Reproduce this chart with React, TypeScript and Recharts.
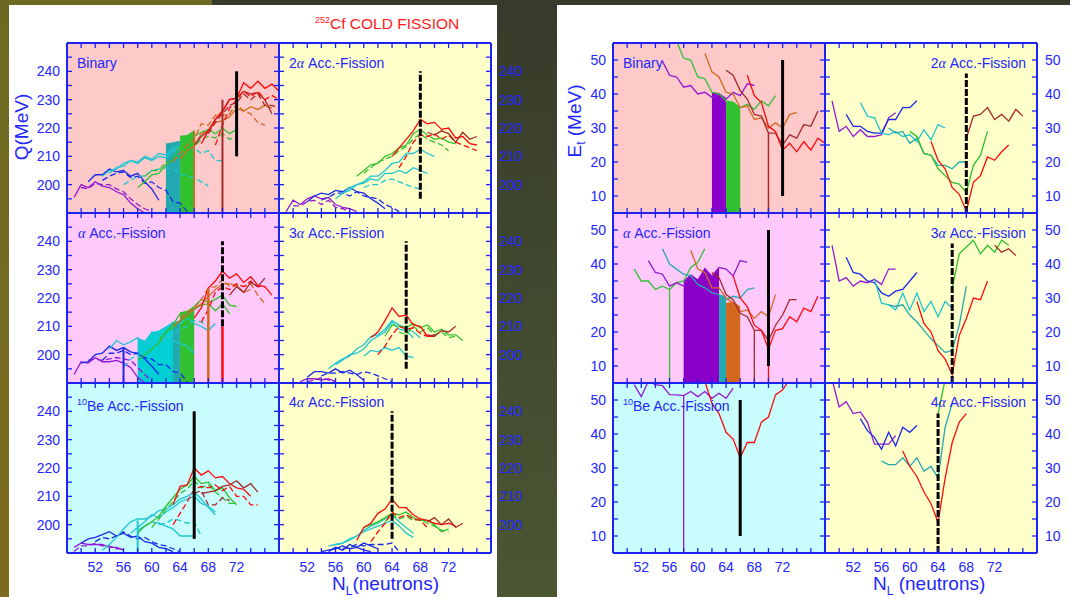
import React from 'react';
import { ComposedChart, Line, Area, XAxis, YAxis, ReferenceArea, ReferenceLine } from 'recharts';

type Series = { n0: number; v: number[] };

// ---------- axes ----------
const N_DOMAIN: [number, number] = [48, 78];
const N_TICKS = [50, 52, 54, 56, 58, 60, 62, 64, 66, 68, 70, 72, 74, 76];
const N_LABELS = [52, 56, 60, 64, 68, 72];
const Q_DOMAIN: [number, number] = [190, 250];
const Q_TICKS = [195, 200, 205, 210, 215, 220, 225, 230, 235, 240, 245];
const Q_LABELS = [200, 210, 220, 230, 240];
const E_DOMAIN: [number, number] = [5, 55];
const E_TICKS = [10, 15, 20, 25, 30, 35, 40, 45, 50];
const E_LABELS = [10, 20, 30, 40, 50];

// ---------- Q(MeV): Binary ----------
const qBinPurple1: Series = { n0: 49, v: [195.5, 200, 199, 201, 199.5, 199, 197.5, 196.5, 193.5, 191.5, 190] };
const qBinPurple2: Series = { n0: 50, v: [199, 198.5, 200.5, 200, 200, 198.5, 197.5, 195, 193, 191.5, 190.5] };
const qBinBlue1: Series = { n0: 51, v: [201, 203.5, 203.5, 205.5, 204.5, 205, 203, 204, 201, 198.5, 194.5] };
const qBinBlue2: Series = { n0: 53, v: [201.5, 203, 204, 204.5, 202.5, 203, 200.5, 201, 199, 198, 194, 193.5, 190.5] };
const qBinCyan1: Series = { n0: 53, v: [203, 205, 205.5, 207.5, 208.5, 208, 210, 209, 211, 210.5, 213, 213.5] };
const qBinCyan2: Series = { n0: 54, v: [204, 206, 206.5, 208.5, 207.5, 209.5, 208.5, 210, 209.5, 212, 212.5] };
const qBinCyan3: Series = { n0: 63, v: [212, 210.5, 212, 213, 211, 212, 208.5, 208.5] };
const qBinCyan4: Series = { n0: 56, v: [200, 201.5, 203, 203, 205, 205.5, 206, 205.5, 204, 203, 202.5, 201, 199.5] };
const qBinGreen1: Series = { n0: 58, v: [199, 201, 203.5, 204, 207, 209, 213.5, 214, 217, 218.5, 219.5, 218, 220, 218, 219.5] };
const qBinGreen2: Series = { n0: 59, v: [203, 205, 205, 208, 208.5, 211, 212, 213.5, 216, 217, 216.5, 218, 216, 217] };
const qBinOrange1: Series = { n0: 63, v: [208, 211, 214, 216, 221.5, 221, 224.5, 224.5, 225, 228.5, 226, 225, 222, 221] };
const qBinOrange2: Series = { n0: 64, v: [209, 212, 213.5, 218, 219, 222, 222.5, 224, 227, 226, 227.5, 226.5, 228, 227] };
const qBinBrown1: Series = { n0: 66, v: [214, 217, 219, 223, 226, 230, 230.5, 233, 232, 232.5, 230, 225] };
const qBinBrown2: Series = { n0: 68, v: [218, 222, 225, 228, 229, 232, 230, 232, 228, 228, 227] };
const qBinRed1: Series = { n0: 67, v: [214.5, 219, 223, 226, 230, 230.5, 236, 234, 236.5, 234, 235.5, 233] };
const qBinRed2: Series = { n0: 69, v: [214, 221, 227, 230, 233, 231, 233, 230, 231.5, 230] };
const qBinBandTeal: Series = { n0: 62, v: [214.5, 215, 215.5] };
const qBinBandGreen: Series = { n0: 64, v: [217.3, 217.5, 219.2] };
const qBinMarkOrange = [66, 190, 219];
const qBinMarkBrown = [70, 190, 230];
const qBinMarkBlack = [72, 210, 240];

// ---------- Q: 2alpha ----------
const q2aPurple1: Series = { n0: 49, v: [190.5, 194.5, 193, 195, 196, 195, 195.5, 193, 192, 191.5, 190.5] };
const q2aPurple2: Series = { n0: 50, v: [192.5, 192.5, 194, 194.5, 193, 194.5, 192, 191.5, 190.5] };
const q2aBlue1: Series = { n0: 52, v: [194, 196, 197, 196.5, 198, 197.5, 199, 197.5, 197, 195, 193.5, 191.5] };
const q2aBlue2: Series = { n0: 54, v: [194.5, 195.5, 197, 197, 196, 197.5, 196, 195.5, 195, 193, 192, 190.5] };
const q2aCyan1: Series = { n0: 56, v: [195, 197, 199, 200, 201, 203, 203, 205, 207.5, 208, 211, 211, 212.5, 211, 210] };
const q2aCyan2: Series = { n0: 57, v: [197, 198, 200, 200.5, 202, 201.5, 204, 204, 205, 204, 206, 205, 204] };
const q2aCyan3: Series = { n0: 60, v: [199, 200, 200, 201.5, 202, 201, 200, 199, 198.5] };
const q2aGreen1: Series = { n0: 59, v: [203, 205, 207, 207.5, 210, 211, 213, 214, 218, 219.5, 217.5, 216, 216.5, 215, 214.5] };
const q2aGreen2: Series = { n0: 60, v: [204, 206, 208, 209, 210, 212, 213.5, 216, 218, 216, 215, 214, 212] };
const q2aRed1: Series = { n0: 64, v: [210, 213, 216, 219, 223, 221.5, 222, 219.5, 220, 216.5, 217, 214.5, 214] };
const q2aRed2: Series = { n0: 65, v: [206, 210, 215, 217.5, 217, 218, 216, 217.5, 215, 214, 213, 212] };
const q2aBrown: Series = { n0: 69, v: [218.5, 217.5, 219, 218, 215, 218.5, 216, 217] };
const q2aMarkBlack = [68, 195, 240];

// ---------- Q: alpha ----------
const qAPurple1: Series = { n0: 49, v: [193, 197.5, 197, 199, 197.5, 197.5, 198, 197, 195.5, 192, 190] };
const qAPurple2: Series = { n0: 51, v: [198, 198.5, 198, 198.5, 199, 198.5, 198, 195.5, 193, 190.5] };
const qABlue1: Series = { n0: 50, v: [197, 197.5, 200, 200.5, 203, 201.5, 202.5, 201, 200.5, 198.5, 196, 193] };
const qABlue2: Series = { n0: 53, v: [198, 200.5, 200.5, 201.5, 200, 200.5, 199, 198.5, 196.5, 196.5, 194, 193.5, 190.5] };
const qACyan1: Series = { n0: 54, v: [202, 205, 203.5, 204.5, 206, 204, 208, 206, 209, 211.5, 211, 213, 211, 210, 208.5, 211] };
const qACyan2: Series = { n0: 58, v: [202, 203.5, 205, 204, 206.5, 205, 204, 203, 200.5] };
const qACyan3: Series = { n0: 56, v: [195.5, 198.5, 200, 201, 202.5, 204, 205.5, 207, 209, 210, 212, 211.5, 210.5] };
const qAGreen1: Series = { n0: 58, v: [198, 200, 202, 204, 208, 210.5, 214.5, 215, 217, 219.5, 218.5, 219.5, 221, 217.5, 217] };
const qAGreen2: Series = { n0: 61, v: [205, 208, 209.5, 212, 213, 216, 217.5, 218, 215.5, 218, 214.5] };
const qAOrange1: Series = { n0: 63, v: [210, 212, 214, 216, 218, 220.5, 223, 225, 225, 224.5, 222, 223] };
const qAOrange2: Series = { n0: 64, v: [213, 215, 216.5, 219.5, 223.5, 224, 226.5, 224, 224.5, 224, 225, 221, 218] };
const qARed1: Series = { n0: 66, v: [213, 216.5, 223.5, 226, 229.5, 227, 228.5, 225.5, 227.5, 224.5, 224, 221] };
const qARed2: Series = { n0: 67, v: [211.5, 216, 222, 224, 223, 225, 224, 226, 224, 224] };
const qABrown: Series = { n0: 71, v: [221, 224, 222, 225.5, 224, 227] };
const qABandCyan: Series = { n0: 58, v: [206, 205, 208, 208.5, 210, 211.5] };
const qABandTeal: Series = { n0: 63, v: [211.5, 212] };
const qABandGreen: Series = { n0: 64, v: [215, 215.5, 217] };
const qAMarkBlue = [56, 190, 202.5];
const qAMarkOrange = [68, 190, 223.5];
const qAMarkRed = [70, 190, 210];
const qAMarkBlack = [70, 210, 240];

// ---------- Q: 3alpha ----------
const q3aPurple1: Series = { n0: 51, v: [190.5, 191.5, 191.5, 191, 191.5, 190.5] };
const q3aPurple2: Series = { n0: 52, v: [190.5, 191, 192, 191, 190.5] };
const q3aBlue1: Series = { n0: 52, v: [192, 194, 194, 193.5, 195, 193.5, 194.5, 193, 191] };
const q3aBlue2: Series = { n0: 54, v: [192.5, 193.5, 193.5, 194, 193.5, 193, 194, 193.5, 192.5, 191.5, 190.5] };
const q3aCyan1: Series = { n0: 55, v: [195, 197, 198.5, 199.5, 202, 203.5, 206.5, 207, 209, 212, 210.5, 209.5, 208, 206] };
const q3aCyan2: Series = { n0: 56, v: [196.5, 198, 200, 200.5, 202, 205, 206.5, 208, 211.5, 209, 208.5, 206] };
const q3aCyan3: Series = { n0: 60, v: [199.5, 201.5, 201, 202.5, 201.5, 202.5, 199.5, 199] };
const q3aGreen1: Series = { n0: 63, v: [206.5, 210.5, 210, 209.5, 211, 209.5, 210.5, 208, 209, 207, 207, 205] };
const q3aGreen2: Series = { n0: 65, v: [208, 207, 210, 208, 209.5, 207, 208, 206, 206.5] };
const q3aRed1: Series = { n0: 61, v: [206, 208, 212, 216.5, 213.5, 214, 210.5, 210, 206.5, 206.5] };
const q3aRed2: Series = { n0: 62, v: [200, 203, 207, 210, 209, 209.5, 207.5, 206.5, 207] };
const q3aBrown: Series = { n0: 69, v: [207, 206.5, 208.5, 208, 210] };
const q3aMarkBlack = [66, 195, 240];

// ---------- Q: 10Be ----------
const qBePurple1: Series = { n0: 49, v: [192, 193.5, 193, 193, 193, 192, 192, 191] };
const qBePurple2: Series = { n0: 49, v: [190.5, 192.5, 192.5, 193.5, 192.5, 192.5, 191.5, 191.5] };
const qBeBlue1: Series = { n0: 50, v: [193.5, 195, 195.5, 196.5, 197.5, 196, 197, 195.5, 196, 194, 193.5, 192, 191.5, 190.5] };
const qBeBlue2: Series = { n0: 52, v: [194, 195.5, 195, 196, 197.5, 196, 195, 195.5, 194, 193, 192.5, 191.5, 190.5] };
const qBeCyan1: Series = { n0: 53, v: [191, 193, 195.5, 198.5, 201, 202, 202, 203, 205, 205.5, 207, 209, 210, 211.5, 209, 206, 203.5] };
const qBeCyan2: Series = { n0: 57, v: [197, 199, 201, 203.5, 202.5, 204.5, 206, 208, 209, 210, 207.5, 206.5, 204.5] };
const qBeCyan3: Series = { n0: 58, v: [198, 199.5, 201, 200.5, 199.5, 198.5, 196, 196, 196] };
const qBeCyan4: Series = { n0: 61, v: [200, 200.5, 202, 201.5, 200.5, 201, 196] };
const qBeGreen1: Series = { n0: 58, v: [197, 199.5, 201, 203, 206.5, 209.5, 212.5, 214, 217, 214.5, 215, 212, 213, 209.5, 207] };
const qBeGreen2: Series = { n0: 60, v: [199, 202, 205.5, 208, 211, 212.5, 215.5, 213, 214, 211.5, 209.5, 207.5, 207.5] };
const qBeRed1: Series = { n0: 63, v: [207, 213.5, 214, 220, 217.5, 219, 216.5, 217, 214.5, 213, 212.5, 210] };
const qBeRed2: Series = { n0: 63, v: [200, 204, 208, 212.5, 213.5, 213, 214, 212, 213.5, 210, 210, 207, 207] };
const qBeBrown1: Series = { n0: 67, v: [211, 211.5, 212, 213.5, 214, 215.5, 213, 214.5, 211.5] };
const qBeBrown2: Series = { n0: 66, v: [211, 212, 207, 207, 209.5, 208.5] };
const qBeMarkCyan = [58, 190, 201.5];
const qBeMarkBlack = [66, 195, 240];

// ---------- Q: 4alpha ----------
const q4aBlue1: Series = { n0: 54, v: [190.5, 191, 191.5, 192.5, 191.5, 192, 191, 190.5] };
const q4aBlue2: Series = { n0: 57, v: [191.5, 192, 193, 192.5, 193, 193, 193, 193.5, 190.5] };
const q4aBlue3: Series = { n0: 55, v: [190.5, 192, 191, 193, 192, 193.5, 192.5, 191.5] };
const q4aCyan1: Series = { n0: 55, v: [192.5, 193, 193.5, 195, 196, 198, 199.5, 200.5, 202, 203.5, 201, 199, 197] };
const q4aCyan2: Series = { n0: 56, v: [193, 193.5, 194.5, 196, 197.5, 198.5, 199.5, 200.5, 201.5, 199.5, 197, 195.5] };
const q4aGreen1: Series = { n0: 60, v: [199, 200, 201, 202.5, 204, 203.5, 204.5, 202.5, 201.5, 201.5, 200, 197.5, 198.5] };
const q4aGreen2: Series = { n0: 63, v: [201, 203.5, 202, 203, 201.5, 202, 200.5, 199.5, 198, 197.5] };
const q4aRed1: Series = { n0: 59, v: [194.5, 199, 200.5, 204, 205.5, 209, 206, 206, 203.5, 202, 201.5, 200.5, 200, 200.5, 199.5] };
const q4aRed2: Series = { n0: 61, v: [194, 197.5, 200.5, 204.5, 202.5, 203.5, 202, 201.5, 199] };
const q4aBrown: Series = { n0: 69, v: [201, 202.5, 200, 202, 199, 200.5] };
const q4aMarkBlack = [64, 195, 240];

// ---------- Et(MeV): Binary ----------
const eBinPurple: Series = { n0: 55, v: [49.6, 45.5, 45, 42, 42.5, 40, 40.5, 39, 40, 38.5, 40.5, 39.5, 43, 42.5] };
const eBinGreen: Series = { n0: 57, v: [55.5, 50.5, 50, 45, 44.5, 40.5, 40, 38, 37.5, 36, 37, 35.5, 38, 36.5, 39.5] };
const eBinOrange: Series = { n0: 61, v: [52, 46.5, 45, 40.5, 40, 36, 36.5, 32.5, 33, 30, 31.5, 30, 34, 34.5] };
const eBinBrown: Series = { n0: 64, v: [47, 45.5, 41, 38.5, 34, 33.5, 28.5, 28.5, 25, 28, 27, 31, 30.5, 35] };
const eBinRed: Series = { n0: 67, v: [45.5, 39.5, 37.5, 30.5, 29, 23.5, 25.5, 23, 26, 23.5, 27, 25.5] };
const eBinBandPurple: Series = { n0: 62, v: [40.5, 40.3, 38.8] };
const eBinBandGreen: Series = { n0: 64, v: [37.6, 37.8, 35.9] };
const eBinMarkBrown = [70, 5, 28.5];
const eBinMarkBlack = [72, 10, 50];

// ---------- Et: 2alpha ----------
const e2aPurple: Series = { n0: 49, v: [38, 29, 30.5, 27.5, 29.5, 27.5, 27.5, 28, 33, 34.5] };
const e2aBlue: Series = { n0: 51, v: [34, 30.5, 30.5, 29, 28.5, 28.5, 32.5, 32.5, 36, 36, 38] };
const e2aCyan: Series = { n0: 53, v: [37.5, 33.5, 33, 28.5, 28, 29, 27.5, 28, 26, 29.5, 26.5, 31, 30] };
const e2aTeal: Series = { n0: 57, v: [30, 28.5, 29, 25.5, 27, 22.5, 22, 19, 19, 18, 20, 20] };
const e2aGreen: Series = { n0: 60, v: [29, 27.5, 22.5, 22, 18, 16, 14, 13.5, 11, 19, 22, 29] };
const e2aRed: Series = { n0: 63, v: [26, 20.5, 18, 12.5, 10.5, 5.5, 14, 16, 21.5, 20.5, 23, 25] };
const e2aBrown: Series = { n0: 68, v: [27, 33.5, 34, 36, 32.5, 34, 32, 35.5, 33.5] };
const e2aMarkBlack = [68, 5, 46];

// ---------- Et: alpha ----------
const eAGreen: Series = { n0: 51, v: [38.5, 35, 35, 32.5, 33.5, 32.5, 34.5, 35, 39, 40.5, 44.5] };
const eAPurple1: Series = { n0: 53, v: [41, 37.5, 37, 33.5, 34.5, 33.5] };
const eAPurple2: Series = { n0: 61, v: [38.5, 36.5, 39, 38.5, 36.5, 41, 40.5] };
const eACyan: Series = { n0: 55, v: [44.5, 40, 38.5, 37, 36.5, 34, 33, 31.5, 31, 29.5, 30.5, 30, 32.5, 33] };
const eAOrange: Series = { n0: 59, v: [44, 38.5, 37.5, 33, 33, 30, 28.5, 26, 26.5, 24, 26, 24.5, 31] };
const eABrown: Series = { n0: 62, v: [37.5, 36, 31, 29.5, 25.5, 24.5, 20.5, 20.5, 17.5, 22, 25, 29.5, 29.5] };
const eARed: Series = { n0: 65, v: [36.5, 30, 27.5, 22, 20.5, 15, 20.5, 21, 24.5, 23, 27, 26, 30.5] };
const eABandPurple: Series = { n0: 58, v: [35, 37, 35.5, 39, 36.5, 39] };
const eABandTeal: Series = { n0: 63, v: [31, 30.5] };
const eABandOrange: Series = { n0: 64, v: [28.5, 29, 27.5] };
const eAMarkGreen = [56, 5, 32.5];
const eAMarkBrown = [68, 5, 20.5];
const eAMarkRed = [70, 5, 15];
const eAMarkBlack = [70, 10, 50];

// ---------- Et: 3alpha ----------
const e3aPurple: Series = { n0: 49, v: [45.5, 35, 36, 33.5, 35, 34.5, 35.5, 34, 38.5, 38.5] };
const e3aBlue: Series = { n0: 51, v: [42, 37.5, 37, 35, 34.5, 31.5, 30.5, 32, 32.5, 35, 37.5] };
const e3aCyan: Series = { n0: 55, v: [35.5, 28.5, 28, 26.5, 31.5, 26.5, 31.5, 26, 29, 24.5, 29, 27] };
const e3aTeal: Series = { n0: 57, v: [28, 27.5, 28, 25, 23, 20.5, 18, 16, 14, 14.5, 22, 33.5] };
const e3aGreen: Series = { n0: 66, v: [33, 43, 45, 47, 43, 45.5, 43.5, 47, 45.5] };
const e3aRed: Series = { n0: 61, v: [29, 22.5, 20, 14.5, 12, 7.5, 19, 24, 30, 29.5, 35] };
const e3aBrown: Series = { n0: 72, v: [45.5, 43.5, 44.5, 42.5] };
const e3aMarkBlack = [66, 5, 46];

// ---------- Et: 10Be ----------
const eBePurple: Series = { n0: 51, v: [54.5, 51, 55.5, 54.5, 54.2, 51.6, 51.5, 51.3, 52.5, 51, 52.5, 50.5, 52, 50.5, 53.5] };
const eBeRed: Series = { n0: 61, v: [55.5, 49, 46, 40.5, 38.5, 33, 37.5, 37.5, 43.5, 45, 51.5, 53, 56] };
const eBeMarkPurple = [58, 5, 51.3];
const eBeMarkBlack = [66, 10, 50];

// ---------- Et: 4alpha ----------
const e4aPurple: Series = { n0: 49, v: [56, 48, 49.5, 46, 46.5, 43.5, 37, 37, 37, 39.5] };
const e4aBlue: Series = { n0: 53, v: [44.5, 41, 39, 35.5, 40.5, 36.5, 42, 40.5, 42.5] };
const e4aTeal: Series = { n0: 56, v: [32, 31, 31, 33, 30.5, 33, 29, 30.5, 27, 42, 49] };
const e4aGreen: Series = { n0: 64, v: [46, 56] };
const e4aRed: Series = { n0: 59, v: [35, 30.5, 27.5, 23, 19.5, 14, 27, 37.5, 43.5, 46] };
const e4aMarkBlack = [64, 5, 46];

// ---------- styles ----------
const FONT = '"Liberation Sans", Arial, sans-serif';
const FRAME = '#1c22f2';
const TXT = '#2226ff';
const PURPLE = '#9418d6';
const BLUE = '#1a2ae8';
const CYAN = '#1fc6d2';
const TEAL = '#22aab0';
const GREEN = '#30c030';
const ORANGE = '#d2691e';
const BROWN = '#a52a2a';
const RED = '#ff0a0a';
const BLACK = '#000000';
const BG_PINK = '#fdc9c9';
const BG_MAGENTA = '#ffc9fc';
const BG_CYAN = '#c9fdfd';
const BG_YELLOW = '#ffffca';

type LineSpec = { s: Series; c: string; dash?: boolean };
type BandSpec = { s: Series; c: string };
type MarkSpec = { m: number[]; c: string; w: number; dash?: boolean };

const pts = (s: Series) => s.v.map((y, i) => ({ x: s.n0 + i, y }));

const PW = 212;
const PH = 170;
const SIDE = 45;
const TOPH = 6;
const BOTH = 32;

type PanelProps = {
  x: number; y: number; bg: string; dom: [number, number]; yTicks: number[]; yLabels: number[];
  labelSide: 'left' | 'right'; xLabels: boolean; lines: LineSpec[]; bands?: BandSpec[]; marks: MarkSpec[];
};

function Panel(p: PanelProps) {
  const W = PW + 2 * SIDE;
  const H = PH + TOPH + BOTH;
  const fmtY = (v: number) => (p.yLabels.includes(v) ? String(v) : '');
  const none = () => '';
  const axisLine = { stroke: FRAME, strokeWidth: 2 };
  const tickLine = { stroke: FRAME, strokeWidth: 1.3 };
  const tickStyle = { fill: TXT, fontSize: 14, fontFamily: FONT };
  return (
    <div style={{ position: 'absolute', left: p.x - SIDE, top: p.y - TOPH, width: W, height: H }}>
      <ComposedChart width={W} height={H} margin={{ top: 0, right: 0, bottom: 0, left: 0 }}>
        <XAxis type="number" dataKey="x" domain={N_DOMAIN} allowDataOverflow ticks={N_TICKS} interval={0}
          height={BOTH} tickSize={-5} tickMargin={14}
          tickFormatter={(v: number) => (p.xLabels && N_LABELS.includes(v) ? String(v) : '')}
          axisLine={axisLine} tickLine={tickLine} tick={tickStyle} />
        <XAxis xAxisId="t" orientation="top" type="number" dataKey="x" domain={N_DOMAIN} allowDataOverflow
          ticks={N_TICKS} interval={0} height={TOPH} tickSize={-5} tickFormatter={none}
          axisLine={axisLine} tickLine={tickLine} tick={tickStyle} />
        <YAxis type="number" dataKey="y" domain={p.dom} allowDataOverflow ticks={p.yTicks} interval={0}
          width={SIDE} tickSize={-5} tickMargin={12} tickFormatter={p.labelSide === 'left' ? fmtY : none}
          axisLine={axisLine} tickLine={tickLine} tick={tickStyle} />
        <YAxis yAxisId="r" orientation="right" type="number" dataKey="y" domain={p.dom} allowDataOverflow
          ticks={p.yTicks} interval={0} width={SIDE} tickSize={-5} tickMargin={13}
          tickFormatter={p.labelSide === 'right' ? fmtY : none}
          axisLine={axisLine} tickLine={tickLine} tick={tickStyle} />
        <ReferenceArea x1={N_DOMAIN[0]} x2={N_DOMAIN[1]} y1={p.dom[0]} y2={p.dom[1]} fill={p.bg} fillOpacity={1} stroke="none" />
        {(p.bands || []).map((b, i) => (
          <Area key={'b' + i} data={pts(b.s)} dataKey="y" type="linear" stroke="none" fill={b.c} fillOpacity={1}
            baseValue={p.dom[0]} isAnimationActive={false} dot={false} activeDot={false} />
        ))}
        {p.lines.map((l, i) => (
          <Line key={'l' + i} data={pts(l.s)} dataKey="y" type="linear" stroke={l.c} strokeWidth={1.3}
            strokeDasharray={l.dash ? '6 3' : undefined} dot={false} activeDot={false} isAnimationActive={false} />
        ))}
        {p.marks.map((m, i) => (
          <ReferenceLine key={'m' + i} segment={[{ x: m.m[0], y: m.m[1] }, { x: m.m[0], y: m.m[2] }]}
            stroke={m.c} strokeWidth={m.w} strokeDasharray={m.dash ? '7 2' : undefined} ifOverflow="visible" />
        ))}
      </ComposedChart>
    </div>
  );
}

const ALPHA = (t: string) => <span style={{ fontFamily: '"Liberation Serif", serif', fontStyle: 'italic' }}>{t}</span>;

function Label({ x, y, children, right }: { x: number; y: number; children: React.ReactNode; right?: boolean }) {
  return (
    <div style={{
      position: 'absolute', top: y - 9, left: right ? undefined : x, right: right ? 1070 - x : undefined,
      fontFamily: FONT, fontSize: 14, color: TXT, lineHeight: '18px', whiteSpace: 'nowrap',
    }}>{children}</div>
  );
}

const LX1 = 67, LX2 = 279, RX1 = 613, RX2 = 825;
const RY1 = 43, RY2 = 213, RY3 = 383;

export default function App() {
  return (
    <div style={{ position: 'absolute', left: 0, top: 0, width: 1070, height: 597, overflow: 'hidden', background: '#373b2b' }}>
      <div style={{ position: 'absolute', left: 0, top: 0, width: 9, height: 597, background: 'linear-gradient(#6c6a22, #7c6b1e)' }} />
      <div style={{ position: 'absolute', left: 0, top: 0, width: 212, height: 5, background: '#6c6a22' }} />
      <div style={{ position: 'absolute', left: 497, top: 5, width: 60, height: 592, background: 'linear-gradient(#373b2b, #4b5733)' }} />
      <div style={{ position: 'absolute', left: 9, top: 5, width: 488, height: 592, background: '#ffffff' }} />
      <div style={{ position: 'absolute', left: 557, top: 5, width: 513, height: 592, background: '#ffffff' }} />

      <div style={{ position: 'absolute', left: 315, top: 15, fontFamily: FONT, fontSize: 15.5, color: '#ff1a1a', whiteSpace: 'nowrap' }}>
        <sup style={{ fontSize: 9 }}>252</sup>Cf COLD FISSION
      </div>

      {/* ----- left: Q ----- */}
      <Panel x={LX1} y={RY1} bg={BG_PINK} dom={Q_DOMAIN} yTicks={Q_TICKS} yLabels={Q_LABELS} labelSide="left" xLabels={false}
        lines={[
          { s: qBinPurple1, c: PURPLE }, { s: qBinPurple2, c: PURPLE, dash: true },
          { s: qBinBlue1, c: BLUE }, { s: qBinBlue2, c: BLUE, dash: true },
          { s: qBinCyan1, c: CYAN }, { s: qBinCyan2, c: CYAN }, { s: qBinCyan3, c: CYAN, dash: true }, { s: qBinCyan4, c: CYAN, dash: true },
          { s: qBinGreen1, c: GREEN }, { s: qBinGreen2, c: GREEN, dash: true },
          { s: qBinOrange1, c: ORANGE, dash: true }, { s: qBinOrange2, c: ORANGE },
          { s: qBinBrown1, c: BROWN }, { s: qBinBrown2, c: BROWN, dash: true },
          { s: qBinRed1, c: RED }, { s: qBinRed2, c: RED, dash: true },
        ]}
        bands={[{ s: qBinBandTeal, c: TEAL }, { s: qBinBandGreen, c: GREEN }]}
        marks={[{ m: qBinMarkOrange, c: ORANGE, w: 1.5 }, { m: qBinMarkBrown, c: BROWN, w: 2 }, { m: qBinMarkBlack, c: BLACK, w: 3 }]} />
      <Panel x={LX2} y={RY1} bg={BG_YELLOW} dom={Q_DOMAIN} yTicks={Q_TICKS} yLabels={Q_LABELS} labelSide="right" xLabels={false}
        lines={[
          { s: q2aPurple1, c: PURPLE }, { s: q2aPurple2, c: PURPLE, dash: true },
          { s: q2aBlue1, c: BLUE }, { s: q2aBlue2, c: BLUE, dash: true },
          { s: q2aCyan1, c: CYAN }, { s: q2aCyan2, c: CYAN }, { s: q2aCyan3, c: CYAN, dash: true },
          { s: q2aGreen1, c: GREEN }, { s: q2aGreen2, c: GREEN, dash: true },
          { s: q2aRed1, c: RED }, { s: q2aRed2, c: RED, dash: true }, { s: q2aBrown, c: BROWN },
        ]}
        marks={[{ m: q2aMarkBlack, c: BLACK, w: 3, dash: true }]} />
      <Panel x={LX1} y={RY2} bg={BG_MAGENTA} dom={Q_DOMAIN} yTicks={Q_TICKS} yLabels={Q_LABELS} labelSide="left" xLabels={false}
        lines={[
          { s: qAPurple1, c: PURPLE }, { s: qAPurple2, c: PURPLE, dash: true },
          { s: qABlue1, c: BLUE }, { s: qABlue2, c: BLUE, dash: true },
          { s: qACyan1, c: CYAN }, { s: qACyan2, c: CYAN }, { s: qACyan3, c: CYAN, dash: true },
          { s: qAGreen1, c: GREEN }, { s: qAGreen2, c: GREEN },
          { s: qAOrange1, c: ORANGE }, { s: qAOrange2, c: ORANGE, dash: true },
          { s: qARed1, c: RED }, { s: qARed2, c: RED, dash: true }, { s: qABrown, c: BROWN },
        ]}
        bands={[{ s: qABandCyan, c: '#00cfd4' }, { s: qABandTeal, c: TEAL }, { s: qABandGreen, c: GREEN }]}
        marks={[{ m: qAMarkBlue, c: BLUE, w: 2 }, { m: qAMarkOrange, c: ORANGE, w: 2.5 }, { m: qAMarkRed, c: RED, w: 2.5 }, { m: qAMarkBlack, c: BLACK, w: 3, dash: true }]} />
      <Panel x={LX2} y={RY2} bg={BG_YELLOW} dom={Q_DOMAIN} yTicks={Q_TICKS} yLabels={Q_LABELS} labelSide="right" xLabels={false}
        lines={[
          { s: q3aPurple1, c: PURPLE }, { s: q3aPurple2, c: PURPLE, dash: true },
          { s: q3aBlue1, c: BLUE }, { s: q3aBlue2, c: BLUE, dash: true },
          { s: q3aCyan1, c: CYAN }, { s: q3aCyan2, c: CYAN }, { s: q3aCyan3, c: CYAN },
          { s: q3aGreen1, c: GREEN }, { s: q3aGreen2, c: GREEN, dash: true },
          { s: q3aRed1, c: RED }, { s: q3aRed2, c: RED, dash: true }, { s: q3aBrown, c: BROWN },
        ]}
        marks={[{ m: q3aMarkBlack, c: BLACK, w: 3, dash: true }]} />
      <Panel x={LX1} y={RY3} bg={BG_CYAN} dom={Q_DOMAIN} yTicks={Q_TICKS} yLabels={Q_LABELS} labelSide="left" xLabels
        lines={[
          { s: qBePurple1, c: PURPLE }, { s: qBePurple2, c: PURPLE, dash: true },
          { s: qBeBlue1, c: BLUE }, { s: qBeBlue2, c: BLUE, dash: true },
          { s: qBeCyan1, c: CYAN }, { s: qBeCyan2, c: CYAN }, { s: qBeCyan3, c: CYAN }, { s: qBeCyan4, c: CYAN, dash: true },
          { s: qBeGreen1, c: GREEN }, { s: qBeGreen2, c: GREEN, dash: true },
          { s: qBeRed1, c: RED }, { s: qBeRed2, c: RED, dash: true },
          { s: qBeBrown1, c: BROWN }, { s: qBeBrown2, c: BROWN, dash: true },
        ]}
        marks={[{ m: qBeMarkCyan, c: CYAN, w: 2 }, { m: qBeMarkBlack, c: BLACK, w: 3 }]} />
      <Panel x={LX2} y={RY3} bg={BG_YELLOW} dom={Q_DOMAIN} yTicks={Q_TICKS} yLabels={Q_LABELS} labelSide="right" xLabels
        lines={[
          { s: q4aBlue1, c: BLUE }, { s: q4aBlue2, c: BLUE, dash: true }, { s: q4aBlue3, c: BLUE },
          { s: q4aCyan1, c: CYAN }, { s: q4aCyan2, c: CYAN },
          { s: q4aGreen1, c: GREEN }, { s: q4aGreen2, c: GREEN, dash: true },
          { s: q4aRed1, c: RED }, { s: q4aRed2, c: RED, dash: true }, { s: q4aBrown, c: BROWN },
        ]}
        marks={[{ m: q4aMarkBlack, c: BLACK, w: 3, dash: true }]} />

      {/* ----- right: Et ----- */}
      <Panel x={RX1} y={RY1} bg={BG_PINK} dom={E_DOMAIN} yTicks={E_TICKS} yLabels={E_LABELS} labelSide="left" xLabels={false}
        bands={[{ s: eBinBandPurple, c: '#8a00c8' }, { s: eBinBandGreen, c: GREEN }]}
        lines={[
          { s: eBinPurple, c: PURPLE }, { s: eBinGreen, c: GREEN }, { s: eBinOrange, c: ORANGE },
          { s: eBinBrown, c: BROWN }, { s: eBinRed, c: RED },
        ]}
        marks={[{ m: eBinMarkBrown, c: BROWN, w: 1.5 }, { m: eBinMarkBlack, c: BLACK, w: 3 }]} />
      <Panel x={RX2} y={RY1} bg={BG_YELLOW} dom={E_DOMAIN} yTicks={E_TICKS} yLabels={E_LABELS} labelSide="right" xLabels={false}
        lines={[
          { s: e2aPurple, c: PURPLE }, { s: e2aBlue, c: BLUE }, { s: e2aCyan, c: CYAN }, { s: e2aTeal, c: TEAL },
          { s: e2aGreen, c: GREEN }, { s: e2aRed, c: RED }, { s: e2aBrown, c: BROWN },
        ]}
        marks={[{ m: e2aMarkBlack, c: BLACK, w: 3, dash: true }]} />
      <Panel x={RX1} y={RY2} bg={BG_MAGENTA} dom={E_DOMAIN} yTicks={E_TICKS} yLabels={E_LABELS} labelSide="left" xLabels={false}
        bands={[{ s: eABandPurple, c: '#8a00c8' }, { s: eABandTeal, c: TEAL }, { s: eABandOrange, c: ORANGE }]}
        lines={[
          { s: eAGreen, c: GREEN }, { s: eAPurple1, c: PURPLE }, { s: eAPurple2, c: PURPLE }, { s: eACyan, c: TEAL },
          { s: eAOrange, c: ORANGE }, { s: eABrown, c: BROWN }, { s: eARed, c: RED },
        ]}
        marks={[{ m: eAMarkGreen, c: GREEN, w: 1.3 }, { m: eAMarkBrown, c: BROWN, w: 1.3 }, { m: eAMarkRed, c: RED, w: 1.3 }, { m: eAMarkBlack, c: BLACK, w: 3 }]} />
      <Panel x={RX2} y={RY2} bg={BG_YELLOW} dom={E_DOMAIN} yTicks={E_TICKS} yLabels={E_LABELS} labelSide="right" xLabels={false}
        lines={[
          { s: e3aPurple, c: PURPLE }, { s: e3aBlue, c: BLUE }, { s: e3aCyan, c: CYAN }, { s: e3aTeal, c: TEAL },
          { s: e3aGreen, c: GREEN }, { s: e3aRed, c: RED }, { s: e3aBrown, c: BROWN },
        ]}
        marks={[{ m: e3aMarkBlack, c: BLACK, w: 3, dash: true }]} />
      <Panel x={RX1} y={RY3} bg={BG_CYAN} dom={E_DOMAIN} yTicks={E_TICKS} yLabels={E_LABELS} labelSide="left" xLabels
        lines={[{ s: eBePurple, c: PURPLE }, { s: eBeRed, c: RED }]}
        marks={[{ m: eBeMarkPurple, c: PURPLE, w: 1.3 }, { m: eBeMarkBlack, c: BLACK, w: 3 }]} />
      <Panel x={RX2} y={RY3} bg={BG_YELLOW} dom={E_DOMAIN} yTicks={E_TICKS} yLabels={E_LABELS} labelSide="right" xLabels
        lines={[
          { s: e4aPurple, c: PURPLE }, { s: e4aBlue, c: BLUE }, { s: e4aTeal, c: TEAL },
          { s: e4aGreen, c: GREEN }, { s: e4aRed, c: RED },
        ]}
        marks={[{ m: e4aMarkBlack, c: BLACK, w: 3, dash: true }]} />

      {/* panel labels */}
      <Label x={77} y={63}>Binary</Label>
      <Label x={289} y={63}>2{ALPHA('α')} Acc.-Fission</Label>
      <Label x={78} y={233}>{ALPHA('α')} Acc.-Fission</Label>
      <Label x={289} y={233}>3{ALPHA('α')} Acc.-Fission</Label>
      <Label x={77} y={402}><sup style={{ fontSize: 9 }}>10</sup>Be Acc.-Fission</Label>
      <Label x={289} y={402}>4{ALPHA('α')} Acc.-Fission</Label>
      <Label x={623} y={63}>Binary</Label>
      <Label x={1026} y={63} right>2{ALPHA('α')} Acc.-Fission</Label>
      <Label x={623} y={233}>{ALPHA('α')} Acc.-Fission</Label>
      <Label x={1026} y={233} right>3{ALPHA('α')} Acc.-Fission</Label>
      <Label x={623} y={402}><sup style={{ fontSize: 9 }}>10</sup>Be Acc.-Fission</Label>
      <Label x={1026} y={402} right>4{ALPHA('α')} Acc.-Fission</Label>

      {/* axis titles */}
      <div style={{ position: 'absolute', left: 22, top: 127, transform: 'translate(-50%, -50%) rotate(-90deg)', fontFamily: FONT, fontSize: 19, color: TXT, whiteSpace: 'nowrap' }}>Q(MeV)</div>
      <div style={{ position: 'absolute', left: 576, top: 121, transform: 'translate(-50%, -50%) rotate(-90deg)', fontFamily: FONT, fontSize: 19, color: TXT, whiteSpace: 'nowrap' }}>E<sub style={{ fontSize: 12 }}>t</sub> (MeV)</div>
      <div style={{ position: 'absolute', left: 332, top: 573, fontFamily: FONT, fontSize: 19, color: TXT, whiteSpace: 'nowrap', lineHeight: '22px' }}>N<sub style={{ fontSize: 12 }}>L</sub>(neutrons)</div>
      <div style={{ position: 'absolute', left: 873, top: 573, fontFamily: FONT, fontSize: 19, color: TXT, whiteSpace: 'nowrap', lineHeight: '22px' }}>N<sub style={{ fontSize: 12 }}>L</sub> (neutrons)</div>
    </div>
  );
}
